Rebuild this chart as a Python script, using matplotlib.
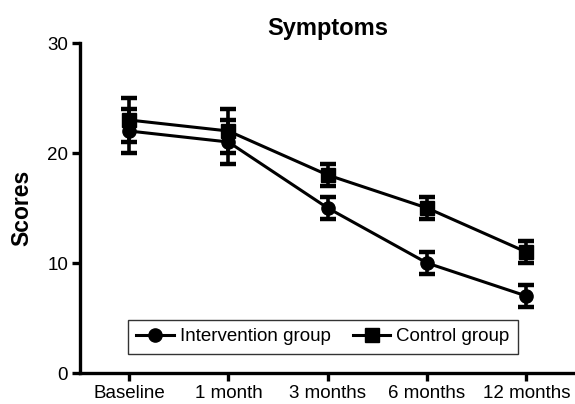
import matplotlib
matplotlib.use("Agg")
import matplotlib.pyplot as plt
from matplotlib.lines import Line2D

# data
time_points = ["Baseline", "1 month", "3 months", "6 months", "12 months"]
intervention_mean = [22, 21, 15, 10, 7]
intervention_err = [2, 2, 1, 1, 1]
control_mean = [23, 22, 18, 15, 11]
control_err = [2, 2, 1, 1, 1]

plt.rcParams['font.family'] = ['Liberation Sans', 'DejaVu Sans']

fig = plt.figure(figsize=(5.75, 4.04), dpi=100)
ax = fig.add_axes([80 / 575, 31 / 404, 495 / 575, 330 / 404])

x = list(range(len(time_points)))
style = dict(color='black', linewidth=2.2, elinewidth=2.6, capsize=6,
             capthick=3.2, markersize=9.5)
ax.errorbar(x, intervention_mean, yerr=intervention_err, marker='o', **style)
ax.errorbar(x, control_mean, yerr=control_err, marker='s', **style)

ax.set_xlim(-0.494, 4.49)
ax.set_ylim(0, 30)
ax.set_yticks([0, 10, 20, 30])
ax.set_xticks(x)
ax.set_xticklabels(time_points)

for side in ['top', 'right']:
    ax.spines[side].set_visible(False)
for side in ['left', 'bottom']:
    ax.spines[side].set_linewidth(2.4)
ax.tick_params(axis='both', width=2.4, length=6, labelsize=13.5, pad=2.5)

ax.set_title("Symptoms", fontsize=17, fontweight='bold', pad=6)
ax.set_ylabel("Scores", fontsize=16.5, fontweight='bold', labelpad=10)

handles = [
    Line2D([], [], color='black', linewidth=2.2, marker='o', markersize=9.5),
    Line2D([], [], color='black', linewidth=2.2, marker='s', markersize=9.5),
]
leg = ax.legend(handles, ['Intervention group', 'Control group'], ncol=2,
                loc='lower left', bbox_to_anchor=(0.097, 0.058),
                borderaxespad=0, fontsize=13.5, frameon=True, fancybox=False,
                handlelength=2.0, handletextpad=0.3, columnspacing=1.2,
                borderpad=0.45)
leg.get_frame().set_edgecolor('black')
leg.get_frame().set_linewidth(1.0)

fig.savefig("out.png", dpi=100)
